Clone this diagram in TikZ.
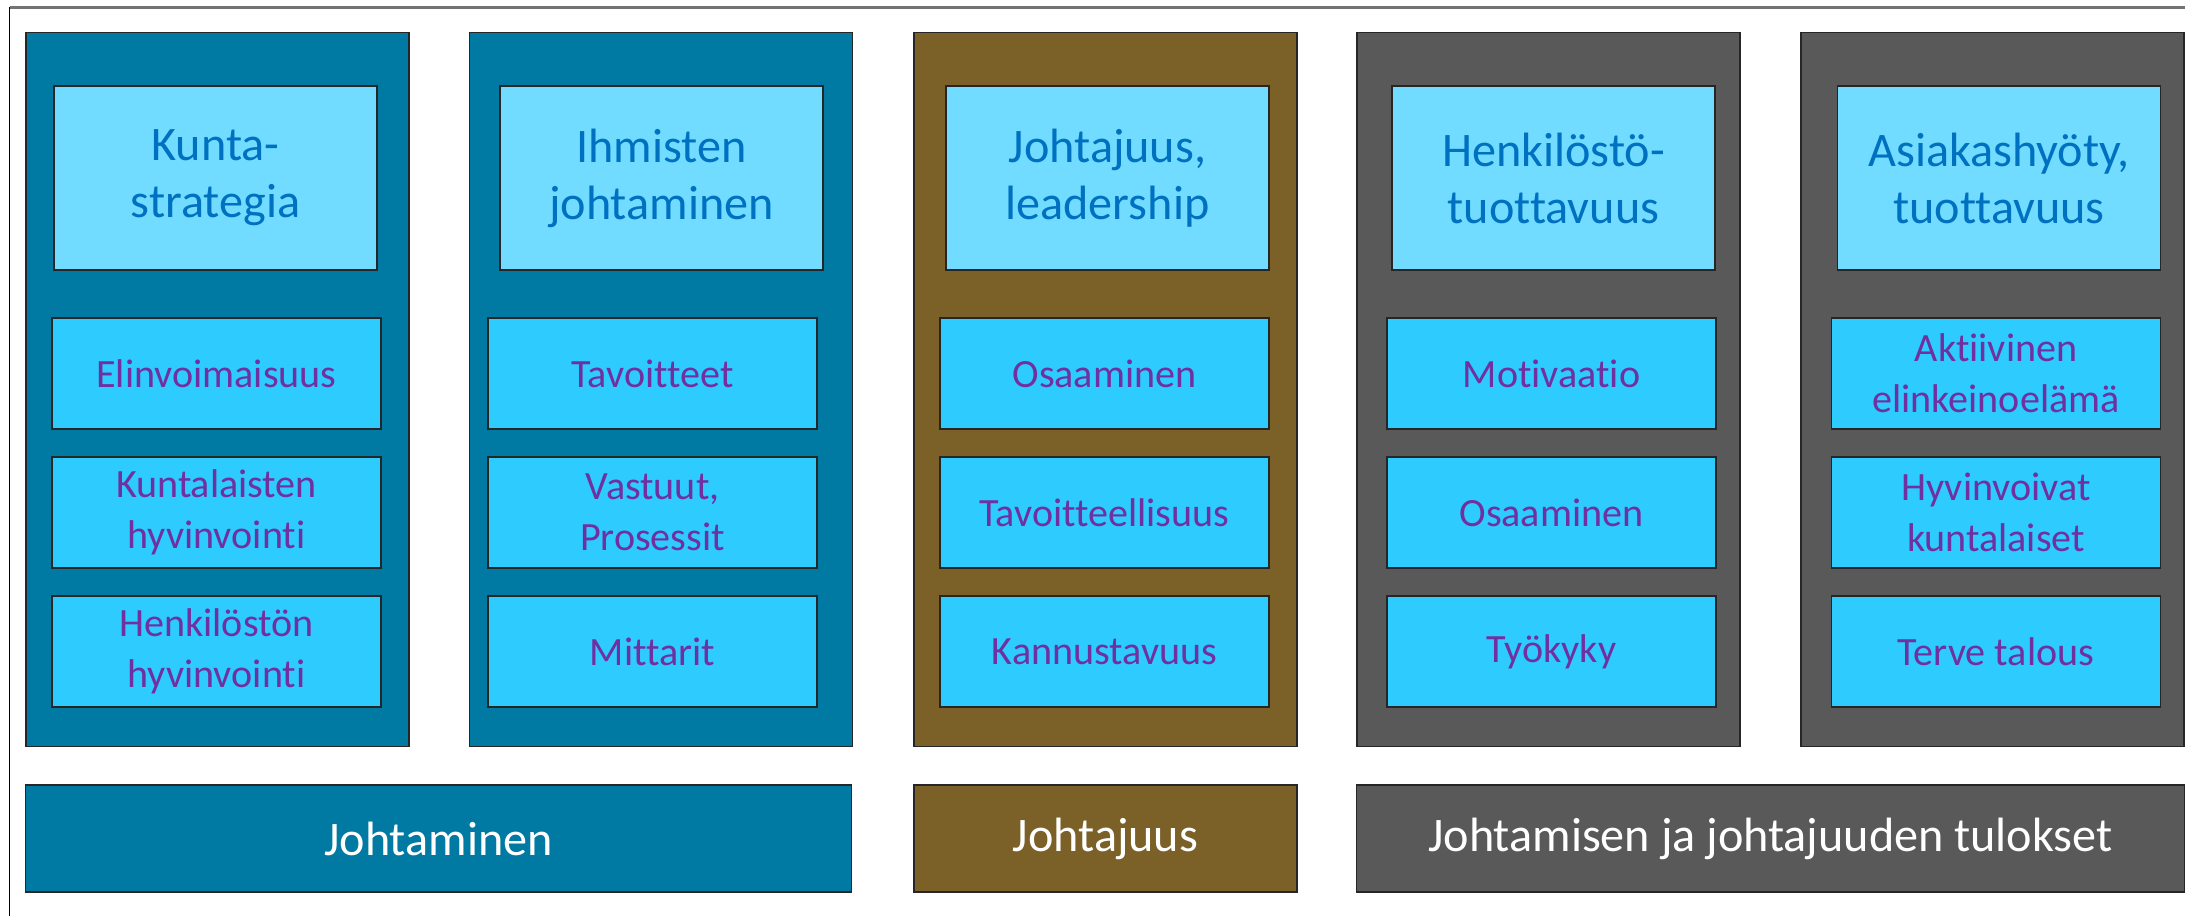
\documentclass[tikz,border=0pt]{standalone}
\usepackage{fontspec}
\setmainfont[Renderer=OpenType,RawFeature={-liga;-clig;-dlig;-calt}]{Carlito}
\definecolor{kuntateal}{HTML}{007AA3}
\definecolor{johtobrown}{HTML}{7B6128}
\definecolor{tulosgray}{HTML}{595959}
\definecolor{headcyan}{HTML}{71DCFF}
\definecolor{itemcyan}{HTML}{2ECBFF}
\definecolor{headblue}{HTML}{0070C0}
\definecolor{itempurple}{HTML}{7030A0}

\begin{document}
\begin{tikzpicture}[x=0.01cm, y=-0.01cm,
    columnbox/.style={draw=black!85, minimum width=3.83cm, minimum height=7.13cm, inner sep=0pt},
    headbox/.style={draw=black!85, fill=headcyan, minimum width=3.23cm, minimum height=1.84cm, inner sep=0pt,
        align=center, text=headblue, font=\fontsize{13.7}{16.2}\selectfont},
    itembox/.style={draw=black!85, fill=itemcyan, minimum width=3.29cm, minimum height=1.11cm, inner sep=0pt,
        align=center, text=itempurple, font=\fontsize{11.4}{14.5}\selectfont},
    barbox/.style={draw=black!85, minimum height=1.07cm, inner sep=0pt, text=white,
        font=\fontsize{13.7}{16.2}\selectfont}]
    \useasboundingbox (0,0) rectangle (2185,916);

    % Outer frame
    \draw[black!55, line width=0.6pt] (9.5,7.5) -- (2185,7.5);
    \draw[black, line width=0.4pt] (9.5,7.5) -- (9.5,916);

    % Columns with heading and three items
    \foreach \n/\cx/\hx/\ix/\fc/\head/\ta/\tb/\tc in {
        c1/217.5/215.5/216.5/kuntateal/{Kunta-\\strategia}/Elinvoimaisuus/{Kuntalaisten\\hyvinvointi}/{Henkilöstön\\hyvinvointi},
        c2/661/661.5/652.5/kuntateal/{Ihmisten\\johtaminen}/Tavoitteet/{Vastuut,\\Prosessit}/Mittarit,
        c3/1105.5/1107.5/1104.5/johtobrown/{Johtajuus,\\leadership}/Osaaminen/Tavoitteellisuus/Kannustavuus,
        c4/1548.5/1553.5/1551.5/tulosgray/{Henkilöstö-\\tuottavuus}/Motivaatio/Osaaminen/Työkyky,
        c5/1992.5/1999/1996/tulosgray/{Asiakashyöty,\\tuottavuus}/{Aktiivinen\\elinkeinoelämä}/{Hyvinvoivat\\kuntalaiset}/{Terve talous}}
    {
        \node[columnbox, fill=\fc] (\n) at (\cx,389.5) {};
        \node[headbox] (\n-head) at (\hx,178) {\head};
        \node[itembox] (\n-a) at (\ix,373.5) {\ta};
        \node[itembox] (\n-b) at (\ix,512.5) {\tb};
        \node[itembox] (\n-c) at (\ix,651.5) {\tc};
    }

    % Bottom bars
    \node[barbox, fill=kuntateal, minimum width=8.25cm] (johtaminen) at (438.5,838.5) {Johtaminen};
    \node[barbox, fill=johtobrown, minimum width=3.83cm] (johtajuus) at (1105.5,838.5) {Johtajuus};
    \node[barbox, fill=tulosgray, minimum width=8.27cm] (tulokset) at (1770.5,838.5) {Johtamisen ja johtajuuden tulokset};
\end{tikzpicture}
\end{document}
